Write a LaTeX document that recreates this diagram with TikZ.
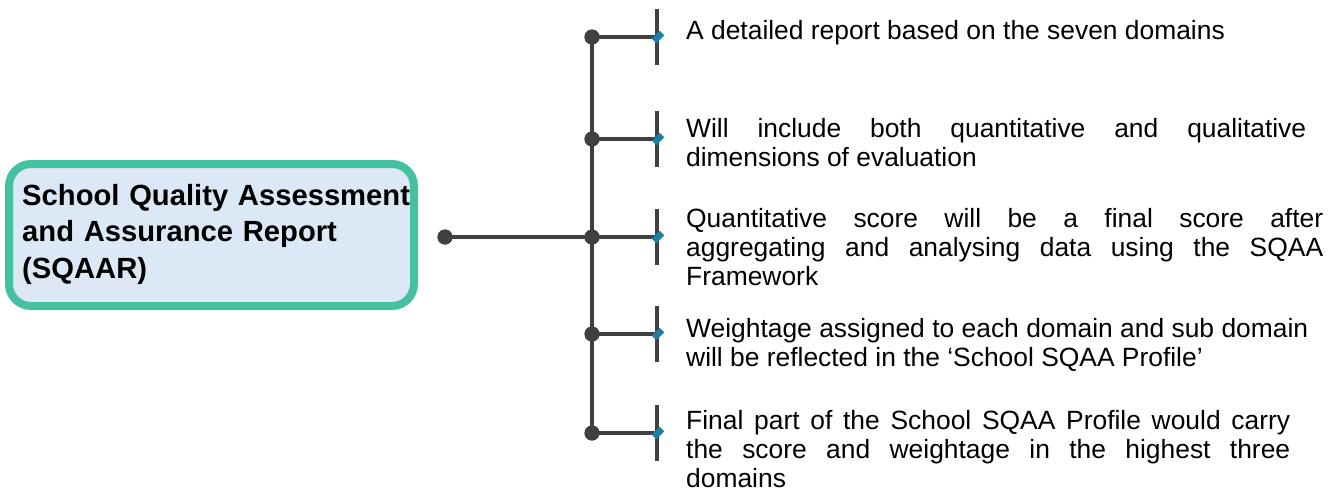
\documentclass[tikz,border=0pt]{standalone}
\usepackage{fontspec}
\setmainfont{Liberation Sans}
\definecolor{lineGrey}{HTML}{404040}
\definecolor{boxGreen}{HTML}{45C1A0}
\definecolor{boxFill}{HTML}{DDE8F6}
\definecolor{markTeal}{HTML}{1C7FA2}
\begin{document}
\begin{tikzpicture}[x=1pt,y=-1pt,
  conn/.style={draw=lineGrey,line width=3.6pt},
  dotnode/.style={circle,fill=lineGrey,minimum size=15pt,inner sep=0pt},
  marknode/.style={rectangle,fill=markTeal,rotate=45,minimum width=11pt,minimum height=6.5pt,inner sep=0pt},
  titlebox/.style={rectangle,rounded corners=22pt,draw=boxGreen,fill=boxFill,line width=8pt,
    minimum width=405pt,minimum height=142pt,inner sep=0pt},
  titletext/.style={anchor=base west,inner sep=0pt,align=left,text width=392pt,
    font=\fontsize{29.2}{36.5}\selectfont\bfseries},
  itemtext/.style={anchor=base west,inner sep=0pt,align=justify,
    font=\fontsize{26.4}{29.3}\selectfont}]
\useasboundingbox (0,0) rectangle (1341,491);

% root box
\node[titlebox] (root) at (211.5,235) {};
\node[titletext] (roottext) at (22,205)
  {School Quality Assessment\\and Assurance Report\\(SQAAR)};

% connector from the box to the trunk
\node[dotnode] (start) at (445,237) {};
\foreach \i/\y in {1/37,2/139,3/237,4/334,5/433}{
  \node[dotnode] (j\i) at (592,\y) {};
  \coordinate (tt\i) at (657,\y-28);
  \coordinate (tb\i) at (657,\y+28);
  \coordinate (te\i) at (657,\y);
}
\draw[conn] (start.center) -- (j3.center);
\draw[conn] (j1.center) -- (j5.center);
\foreach \i in {1,...,5}{
  \draw[conn] (j\i.center) -- (te\i);
  \draw[conn] (tt\i) -- (tb\i);
}
\node[dotnode] at (start) {};
\foreach \i in {1,...,5}{
  \node[dotnode] at (j\i) {};
  \node[marknode] (m\i) at ([xshift=1pt]te\i) {};
}

% item texts
\node[itemtext,text width=560pt] (t1) at (686,39)
  {A detailed report based on the seven domains};
\node[itemtext,text width=620pt] (t2) at (686,137)
  {Will include both quantitative and qualitative\linebreak dimensions of evaluation};
\node[itemtext,text width=637pt] (t3) at (686,227)
  {Quantitative score will be a final score after\linebreak aggregating and analysing data using the SQAA\linebreak Framework};
\node[itemtext,text width=622pt] (t4) at (686,337)
  {Weightage assigned to each domain and sub domain\linebreak will be reflected in the ‘School SQAA Profile’};
\node[itemtext,text width=604pt] (t5) at (686,429)
  {Final part of the School SQAA Profile would carry\linebreak the score and weightage in the highest three\linebreak domains};
\end{tikzpicture}
\end{document}
